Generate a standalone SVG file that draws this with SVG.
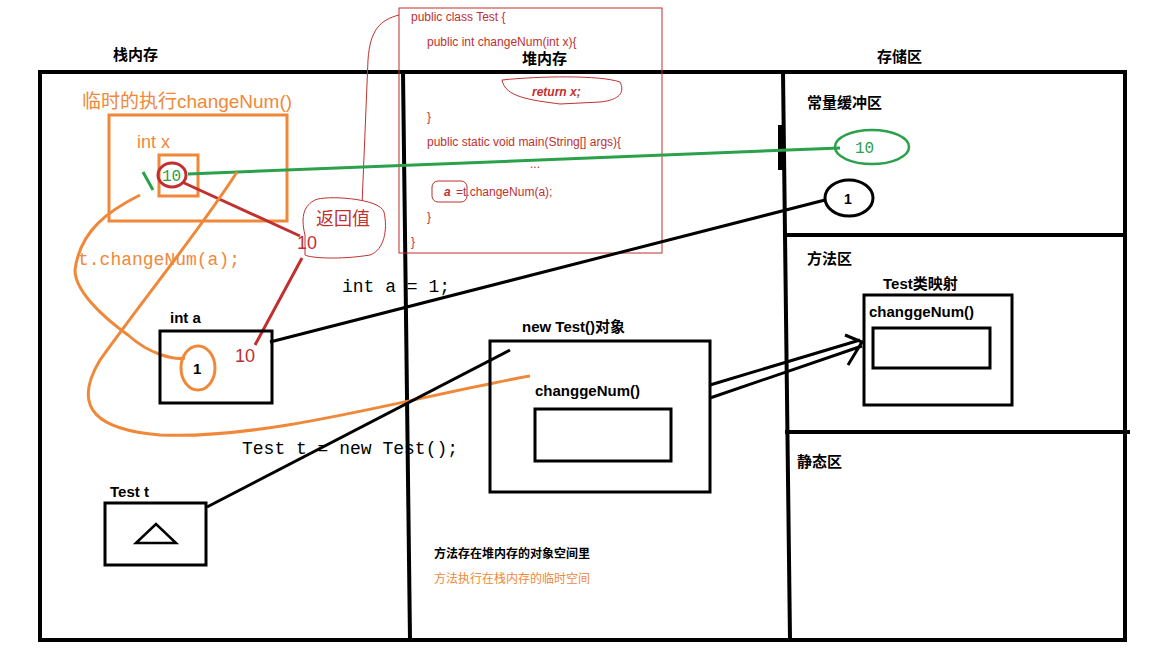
<svg xmlns="http://www.w3.org/2000/svg" width="1152" height="648" viewBox="0 0 1152 648">
<style>
.b{font-family:"Liberation Sans","Noto Sans CJK SC",sans-serif;font-weight:bold;font-size:15px;fill:#000}
.m{font-family:"Liberation Mono",monospace;font-size:18px}
.c{font-family:"Liberation Sans","Noto Sans CJK SC",sans-serif;font-size:12px;fill:#c0302f}
.k{fill:none;stroke:#000;stroke-width:3}
.o{fill:none;stroke:#f0883a;stroke-width:3}
</style>
<rect width="1152" height="648" fill="#fff"/>
<g id="frame" fill="none" stroke="#000" stroke-width="4">
<path d="M38 72H1125V640H40V72"/>
<path d="M403 72L410 640"/>
<path d="M783 72L790 640"/>
<path d="M783 235H1125M785 432H1130"/>
<path d="M781 125V170" stroke-width="6"/>
</g>
<text class="b" x="113" y="60">栈内存</text>
<text class="b" x="522" y="64">堆内存</text>
<text class="b" x="877" y="62">存储区</text>
<g id="code">
<rect x="399" y="8" width="263" height="245" fill="none" stroke="#c0302f" stroke-width="1"/>
<path d="M399 15C380 20 370 30 368 60L362 205" fill="none" stroke="#c0302f"/>
<text class="c" x="411" y="21">public class Test {</text>
<text class="c" x="427" y="46">public int changeNum(int x){</text>
<path d="M502 80C540 76 600 75 620 82C625 92 620 100 600 102L560 104C530 100 505 97 502 80Z" fill="none" stroke="#c0302f"/>
<text class="c" x="532" y="96" font-weight="bold" font-style="italic">return x;</text>
<text class="c" x="427" y="121">}</text>
<text class="c" x="427" y="146">public static void main(String[] args){</text>
<text class="c" x="530" y="168">...</text>
<rect x="432" y="181" width="35" height="21" rx="6" fill="none" stroke="#c0302f"/>
<text class="c" x="444" y="196" font-weight="bold" font-style="italic">a</text>
<text class="c" x="456" y="196">=t.changeNum(a);</text>
<text class="c" x="427" y="221">}</text>
<text class="c" x="411" y="246">}</text>
</g>
<g id="temp">
<text x="82" y="108" font-family="Liberation Sans,Noto Sans CJK SC,sans-serif" font-size="19" fill="#f0883a">临时的执行changeNum()</text>
<rect class="o" x="109" y="115" width="178" height="106"/>
<text x="137" y="148" font-family="Liberation Sans,sans-serif" font-size="18" fill="#f0883a">int x</text>
<rect class="o" x="159" y="155" width="39" height="41"/>
<path d="M143 172L153 190" stroke="#2aa14a" stroke-width="3"/>
<ellipse cx="172" cy="175" rx="14" ry="12" fill="none" stroke="#c0302f" stroke-width="3"/>
<text x="162" y="181" font-family="Liberation Mono,monospace" font-size="16" fill="#2aa14a">10</text>
<text class="m" x="78" y="265" fill="#f0883a" font-size="19.5">t.changeNum(a);</text>
</g>
<g id="connectors">
<path d="M188 174L840 148" stroke="#2aa14a" stroke-width="3"/>
<path d="M182 182L300 236M302 258L255 345" stroke="#c0302f" stroke-width="3"/>
<path class="o" d="M140 195C110 210 80 230 75 270C75 290 100 315 128 335C150 355 175 360 185 358"/>
<path class="o" d="M237 172C200 230 150 290 100 360C70 410 100 430 160 435C270 440 420 395 530 376"/>
<path class="k" d="M825 200L270 342"/>
<path class="k" d="M207 507L510 350"/>
<path class="k" d="M710 385L860 340M710 398L862 346M845 335L862 342L848 365"/>
</g>
<g id="ret">
<path d="M305 235C300 215 305 205 315 200C325 195 380 198 384 212C388 230 384 250 370 255C340 260 310 258 305 255Z" fill="#fff" stroke="#c0302f" stroke-width="1"/>
<text x="316" y="225" font-family="Noto Sans CJK SC,sans-serif" font-size="18" fill="#c0302f">返回值</text>
<text x="297" y="249" font-family="Liberation Sans,sans-serif" font-size="18" fill="#c0302f">10</text>
</g>
<g id="inta">
<text class="b" x="170" y="323">int a</text>
<rect class="k" x="160" y="331" width="112" height="72"/>
<ellipse class="o" cx="198" cy="368" rx="17" ry="22"/>
<text x="193" y="374" font-family="Liberation Sans,sans-serif" font-weight="bold" font-size="15">1</text>
<text x="235" y="362" font-family="Liberation Sans,sans-serif" font-size="18" fill="#c0302f">10</text>
</g>
<text class="m" x="342" y="292">int a = 1;</text>
<text class="m" x="242" y="454">Test t = new Test();</text>
<g id="testt">
<text class="b" x="110" y="497">Test t</text>
<rect class="k" x="105" y="503" width="101" height="62"/>
<path d="M136 543L156 524L176 543Z" fill="none" stroke="#000" stroke-width="2.5"/>
</g>
<g id="obj">
<text class="b" x="522" y="332">new Test()对象</text>
<rect class="k" x="490" y="341" width="220" height="151"/>
<text class="b" x="535" y="396">changgeNum()</text>
<rect class="k" x="535" y="409" width="136" height="52"/>
</g>
<g id="store">
<text class="b" x="807" y="108">常量缓冲区</text>
<ellipse cx="872" cy="147" rx="37" ry="17" fill="none" stroke="#2aa14a" stroke-width="2.5"/>
<text x="855" y="153" font-family="Liberation Mono,monospace" font-size="16" fill="#2aa14a">10</text>
<ellipse class="k" cx="849" cy="198" rx="24" ry="18"/>
<text x="844" y="204" font-family="Liberation Sans,sans-serif" font-weight="bold" font-size="14">1</text>
<text class="b" x="807" y="264">方法区</text>
<text class="b" x="883" y="289">Test类映射</text>
<rect class="k" x="864" y="295" width="148" height="110"/>
<text class="b" x="869" y="317">changgeNum()</text>
<rect class="k" x="873" y="328" width="117" height="40"/>
<text class="b" x="797" y="467">静态区</text>
</g>
<text x="434" y="558" font-family="Noto Sans CJK SC,sans-serif" font-size="12" font-weight="bold">方法存在堆内存的对象空间里</text>
<text x="434" y="583" font-family="Noto Sans CJK SC,sans-serif" font-size="12" fill="#f0883a">方法执行在栈内存的临时空间</text>
</svg>
